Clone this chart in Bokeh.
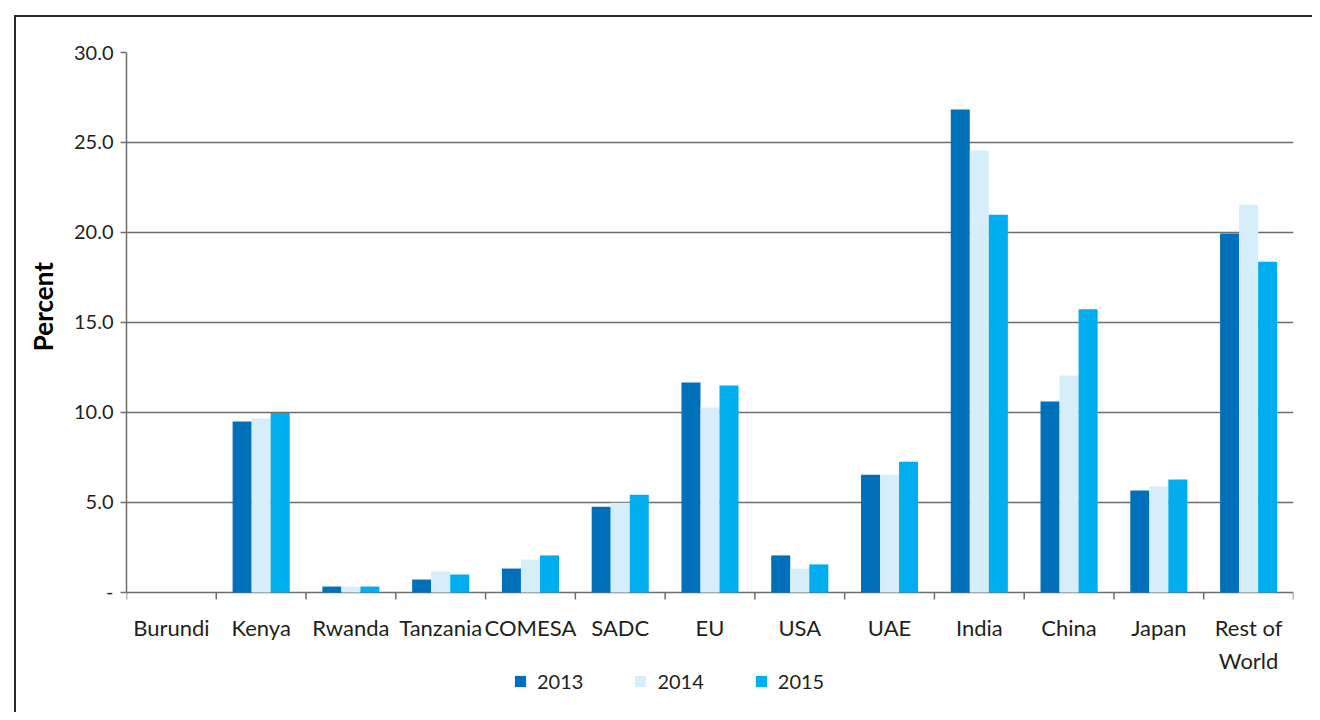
from bokeh.plotting import figure
from bokeh.models import (FactorRange, Range1d, FixedTicker, ColumnDataSource,
                          Legend, LegendItem)
from bokeh.core.properties import value
from bokeh.transform import dodge
from bokeh.embed import file_html
from bokeh.resources import INLINE

# ---- data ----
categories = ["Burundi", "Kenya", "Rwanda", "Tanzania", "COMESA", "SADC", "EU", "USA",
              "UAE", "India", "China", "Japan", "Rest of\nWorld"]
years = ["2013", "2014", "2015"]
v2013 = [0.0, 9.50, 0.33, 0.72, 1.33, 4.76, 11.67, 2.06, 6.54, 26.83, 10.61, 5.67, 19.95]
v2014 = [0.0, 9.67, 0.33, 1.17, 1.83, 4.98, 10.28, 1.33, 6.54, 24.56, 12.06, 5.89, 21.54]
v2015 = [0.0, 9.97, 0.33, 1.00, 2.06, 5.43, 11.50, 1.56, 7.26, 20.98, 15.74, 6.28, 18.37]
y_ticks = [0, 5, 10, 15, 20, 25, 30]
y_tick_labels = ["-", "5.0", "10.0", "15.0", "20.0", "25.0", "30.0"]
colors = ["#0070BA", "#D6EEFA", "#00AEEF"]

FONT = "Lato"
TXT = "#231F20"
LINE = "#6E6E6E"

src = ColumnDataSource(dict(cat=categories, y2013=v2013, y2014=v2014, y2015=v2015))
last = ColumnDataSource(dict(cat=categories[-1:]))

# frame extends below zero so the category labels and legend sit inside it
p = figure(x_range=FactorRange(factors=categories), y_range=Range1d(-6.667, 30),
           width=1312, height=712, output_backend="svg", toolbar_location=None,
           x_axis_location=None, min_border_left=126, min_border_top=52,
           min_border_right=19, min_border_bottom=0)
p.outline_line_color = None
p.border_fill_color = None
p.background_fill_color = None
p.styles = {"box-shadow": "inset 14px 15px 0 0 #ffffff, inset 16px 17px 0 0 #2a2a2a",
            "background": "#ffffff"}

# y axis
yt = FixedTicker(ticks=y_ticks)
p.yaxis.ticker = yt
p.yaxis.bounds = (0, 30)
p.yaxis.major_label_overrides = {t: lab for t, lab in zip(y_ticks, y_tick_labels)}
p.yaxis.major_tick_in = 0
p.yaxis.major_tick_out = 6
p.yaxis.minor_tick_line_color = None
p.yaxis.axis_line_color = LINE
p.yaxis.axis_line_width = 1.5
p.yaxis.major_tick_line_color = LINE
p.yaxis.major_tick_line_width = 1.5
p.yaxis.major_label_text_font = FONT
p.yaxis.major_label_text_font_size = "20px"
p.yaxis.major_label_text_color = TXT
p.yaxis.major_label_standoff = 7
# leading no-break spaces move the label up to the centre of the 0-30 span
p.yaxis.axis_label = "\u00a0" * 24 + "Percent"
p.yaxis.axis_label_text_font = FONT
p.yaxis.axis_label_text_font_style = "bold"
p.yaxis.axis_label_text_font_size = "26px"
p.yaxis.axis_label_text_color = "#000000"
p.yaxis.axis_label_standoff = 12

p.ygrid.ticker = yt
p.ygrid.grid_line_color = LINE
p.ygrid.grid_line_width = 1.5
p.xgrid.grid_line_color = None

# category boundary ticks below the zero line
tick_len = 7 / 18.0
p.segment(x0=dodge("cat", -0.5, range=p.x_range), y0=0,
          x1=dodge("cat", -0.5, range=p.x_range), y1=-tick_len,
          source=src, line_color=LINE, line_width=1.5)
p.segment(x0=dodge("cat", 0.5, range=p.x_range), y0=0,
          x1=dodge("cat", 0.5, range=p.x_range), y1=-tick_len,
          source=last, line_color=LINE, line_width=1.5)

# category labels
p.text(x="cat", y=-1.22, text="cat", source=src, text_align="center",
       text_baseline="top", text_font=value(FONT), text_font_size="22px",
       text_color=TXT, text_line_height=1.2)

# bars
w = 0.212
r1 = p.vbar(x=dodge("cat", -w, range=p.x_range), top="y2013", width=w, source=src,
            fill_color=colors[0], line_color=None)
r2 = p.vbar(x=dodge("cat", 0, range=p.x_range), top="y2014", width=w, source=src,
            fill_color=colors[1], line_color=None)
r3 = p.vbar(x=dodge("cat", w, range=p.x_range), top="y2015", width=w, source=src,
            fill_color=colors[2], line_color=None)

legend = Legend(items=[LegendItem(label=years[0], renderers=[r1]),
                       LegendItem(label=years[1], renderers=[r2]),
                       LegendItem(label=years[2], renderers=[r3])],
                orientation="horizontal", location=(387, 19),
                border_line_color=None, background_fill_alpha=0,
                padding=0, margin=0, spacing=50,
                glyph_width=14, glyph_height=14, label_standoff=10,
                label_text_font=FONT, label_text_font_size="20px",
                label_text_color=TXT, label_height=24)
p.add_layout(legend, "center")

open("out.html", "w").write(file_html(p, INLINE))
